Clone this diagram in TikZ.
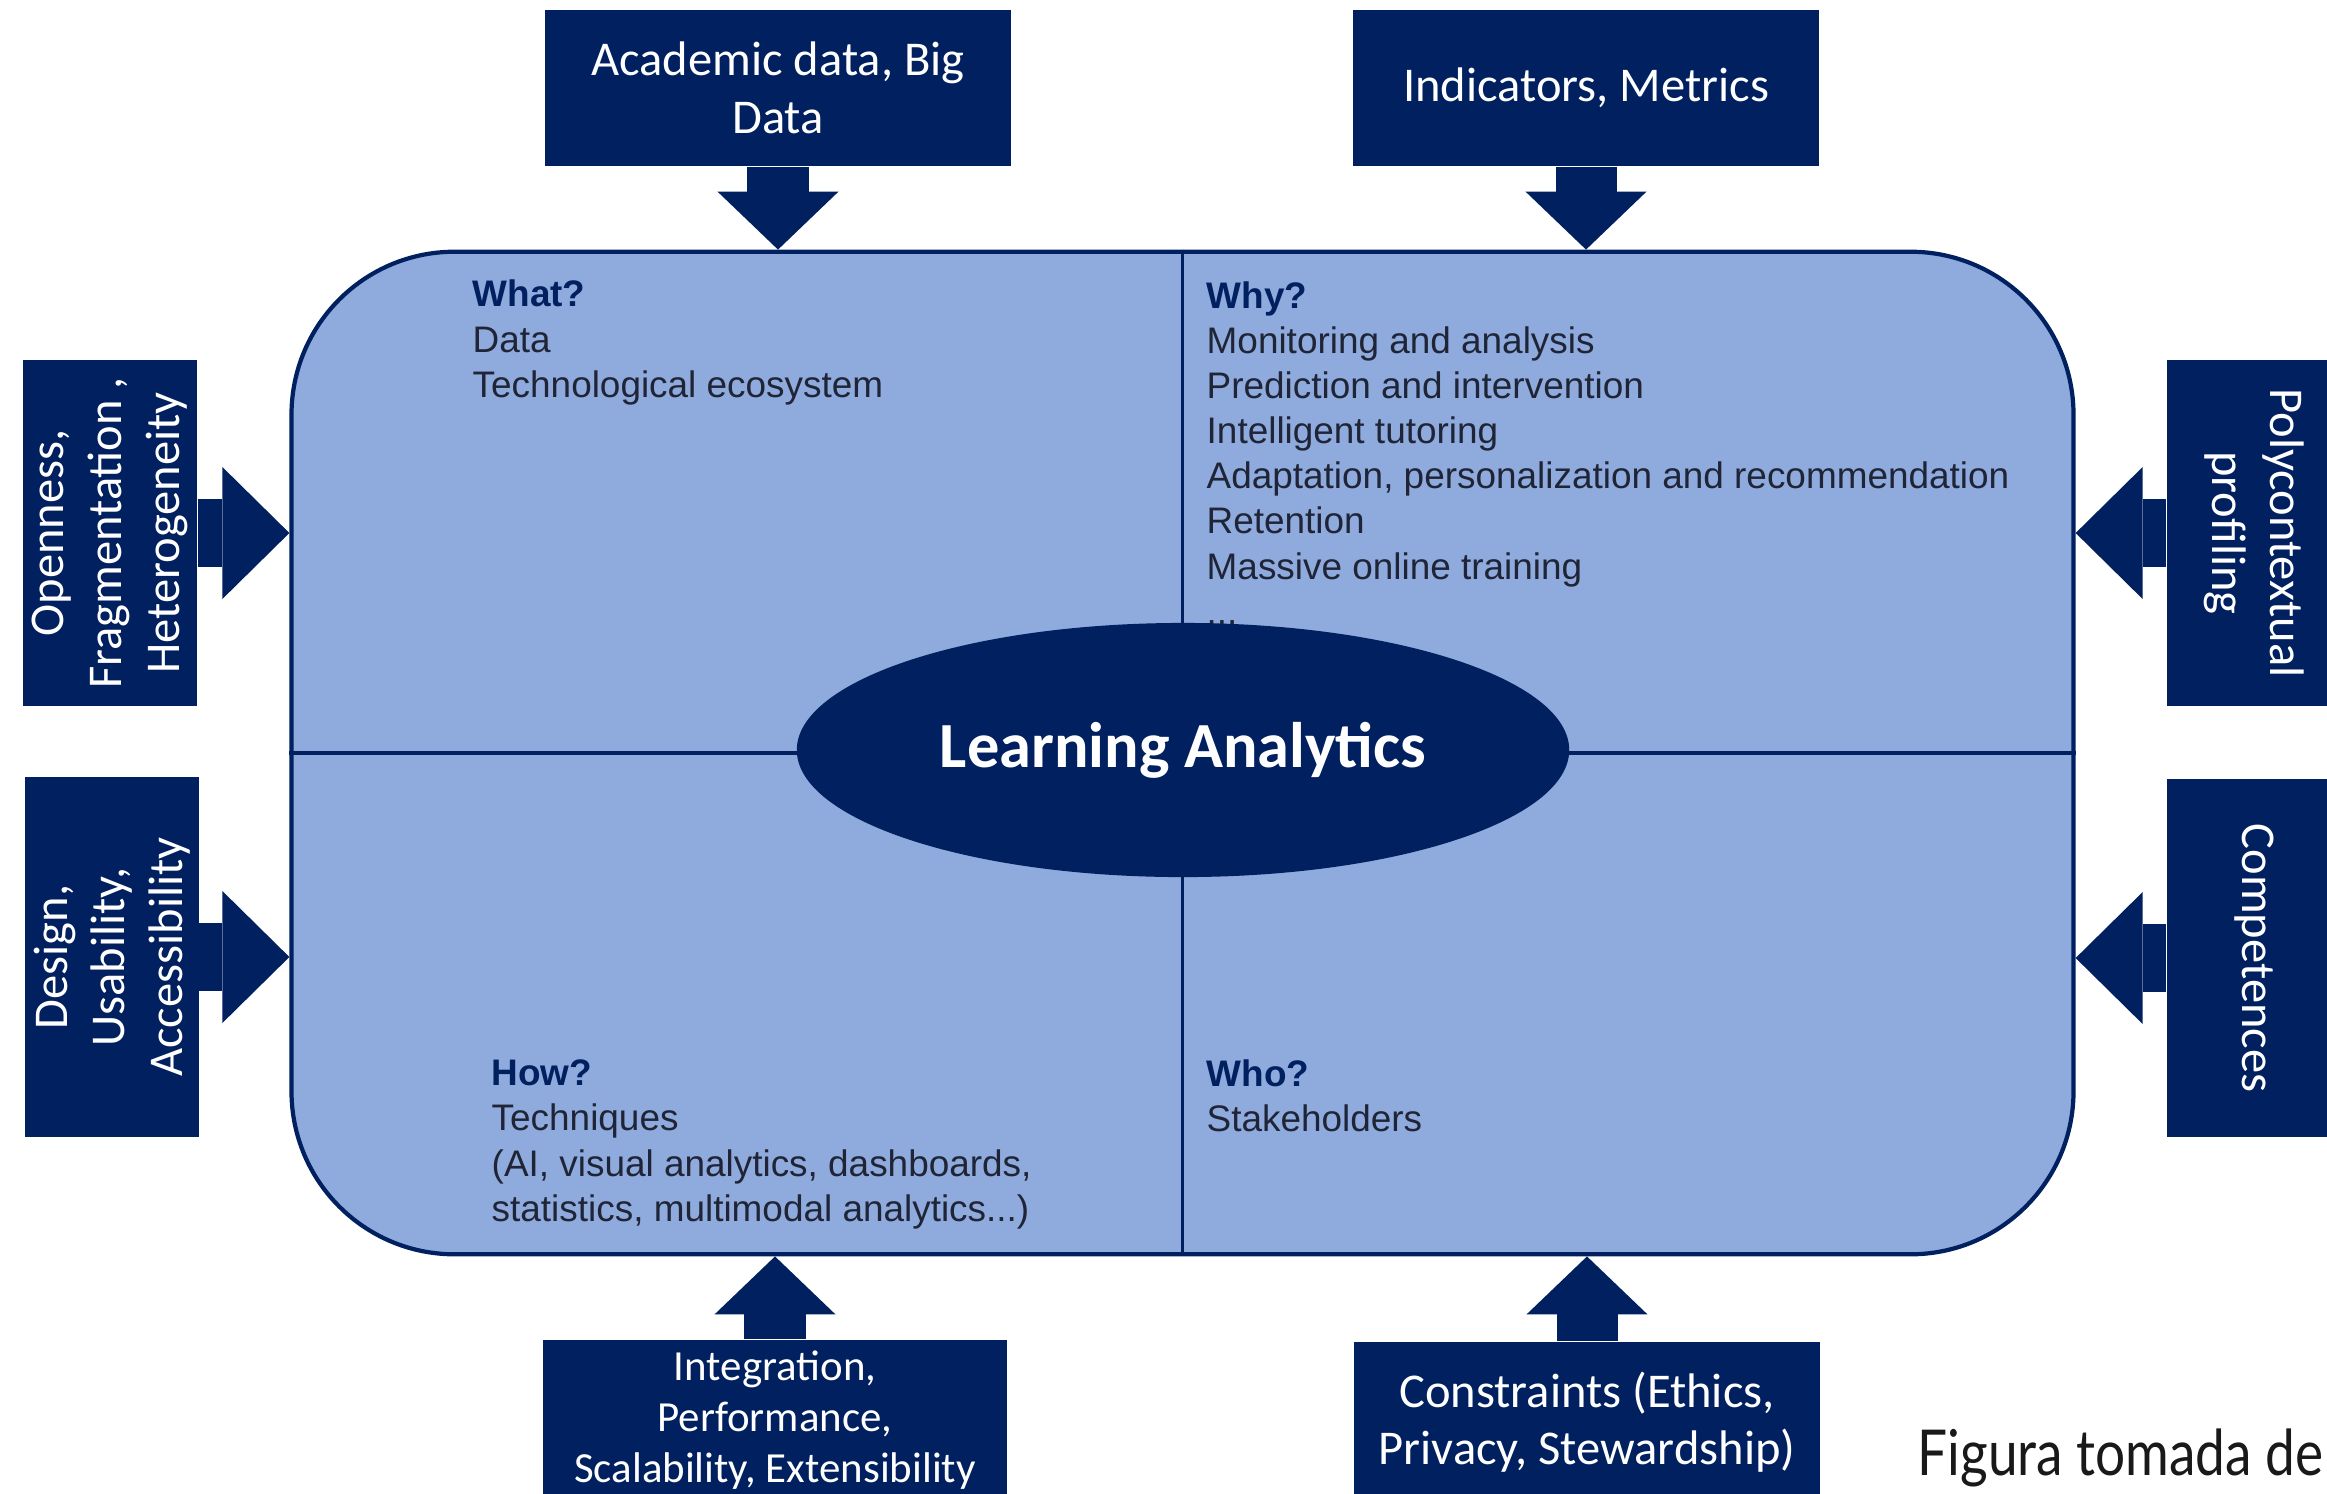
\documentclass[tikz,border=0pt]{standalone}
\usepackage{fontspec}
\setmainfont{Liberation Sans}
\newfontfamily\boxfont{Carlito}
\newfontfamily\notefont{Lato}
\usetikzlibrary{shapes.geometric,arrows.meta}
\definecolor{navy}{HTML}{002060}
\definecolor{paleblue}{HTML}{8FAADC}
\definecolor{quadtext}{HTML}{1F2536}
\newcommand\qhead[1]{{\bfseries\color{navy}#1}}
\begin{document}
\begin{tikzpicture}[x=0.01cm,y=-0.01cm,
    box/.style={fill=navy,text=white,inner sep=0pt,align=center,font=\boxfont\fontsize{13.8}{16.4}\selectfont},
    quad/.style={anchor=base west,inner sep=0pt,align=left,text=quadtext,font=\fontsize{10.5}{12.8}\selectfont},
    varrow/.style={navy,line width=0.61cm,-{Triangle[length=0.58cm,width=1.21cm,line width=0pt]}},
    harrow/.style={navy,line width=0.68cm,-{Triangle[length=0.67cm,width=1.32cm,line width=0pt]}}]
  \useasboundingbox (0,0) rectangle (2327,1493);
  \node[draw=navy,line width=1.2pt,fill=paleblue,rounded corners=1.63cm,minimum width=17.81cm,minimum height=10.02cm] (frame) at (1182.5,753) {};
  \draw[navy,line width=1pt] (frame.north) -- (frame.south);
  \draw[navy,line width=1pt] (frame.west) -- (frame.east);
  \node[quad] (what) at (472,397) {\qhead{What?}\\Data\\Technological ecosystem};
  \node[quad] (why) at (1206,624) {\qhead{Why?}\\Monitoring and analysis\\Prediction and intervention\\Intelligent tutoring\\Adaptation, personalization and recommendation\\Retention\\Massive online training\\...};
  \node[quad] (how) at (491,1221) {\qhead{How?}\\Techniques\\(AI, visual analytics, dashboards,\\statistics, multimodal analytics...)};
  \node[quad] (who) at (1206,1131) {\qhead{Who?}\\Stakeholders};
  \node[ellipse,fill=navy,minimum width=7.72cm,minimum height=2.54cm,inner sep=0pt,text=white,font=\boxfont\bfseries\fontsize{18.3}{20}\selectfont] (la) at (1183,750) {Learning Analytics};
  \node[box,minimum width=4.66cm,minimum height=1.56cm] (acad) at (778,88) {Academic data, Big\\Data};
  \node[box,minimum width=4.66cm,minimum height=1.56cm] (ind) at (1586,88) {Indicators, Metrics};
  \node[box,rotate=90,minimum width=3.46cm,minimum height=1.74cm] (open) at (110,533) {Openness,\\Fragmentation ,\\Heterogeneity};
  \node[box,rotate=90,minimum width=3.59cm,minimum height=1.73cm] (design) at (112,957) {Design,\\Usability,\\Accessibility};
  \node[box,rotate=-90,minimum width=3.46cm,minimum height=1.74cm] (poly) at (2254,533) {Polycontextual\\profiling};
  \node[box,rotate=-90,minimum width=3.58cm,minimum height=1.74cm] (comp) at (2254,958) {Competences};
  \node[box,minimum width=4.64cm,minimum height=1.6cm,font=\boxfont\fontsize{12.2}{14.5}\selectfont] (integ) at (775,1420) {Integration,\\Performance,\\Scalability, Extensibility};
  \node[box,minimum width=4.66cm,minimum height=1.6cm] (constr) at (1587,1422) {Constraints (Ethics,\\Privacy, Stewardship)};
  \draw[varrow] (acad.south) -- (acad.south |- frame.north);
  \draw[varrow] (ind.south) -- (ind.south |- frame.north);
  \draw[harrow] (open.south) -- (open.south -| frame.west);
  \draw[harrow] (design.south) -- (design.south -| frame.west);
  \draw[harrow] (poly.south) -- (poly.south -| frame.east);
  \draw[harrow] (comp.south) -- (comp.south -| frame.east);
  \draw[varrow] (integ.north) -- (integ.north |- frame.south);
  \draw[varrow] (constr.north) -- (constr.north |- frame.south);
  \node[anchor=base west,inner sep=0pt,xscale=0.84,text=black!90,font=\notefont\fontsize{18}{20}\selectfont] (note) at (1917,1475) {Figura tomada de};
\end{tikzpicture}
\end{document}
